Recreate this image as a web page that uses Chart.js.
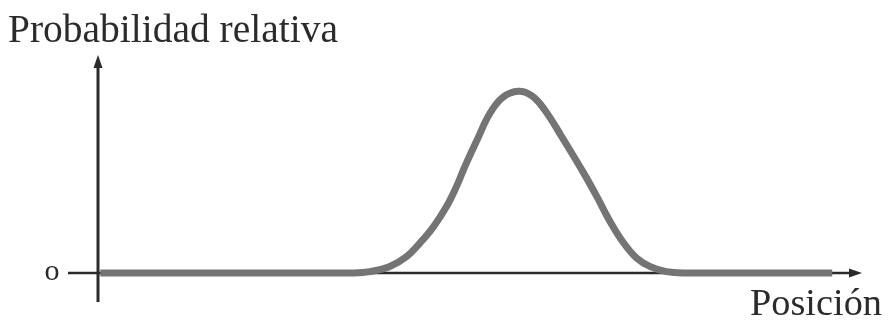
<!DOCTYPE html>
<html>
<head>
<meta charset="utf-8">
<script src="https://cdn.jsdelivr.net/npm/chart.js@4.4.0/dist/chart.umd.min.js"></script>
<style>
html,body{margin:0;padding:0;background:#fff;}
#wrap{width:888px;height:322px;position:relative;}
</style>
</head>
<body>
<div id="wrap"><canvas id="c"></canvas></div>
<script>
// Position (arbitrary units) and relative probability
const positions = [0.3, 20, 33.5, 35.6, 38.2, 40.4, 42.1, 43.9, 45.6, 46.9, 48.0, 49.6, 51.3, 53.0, 55.0, 56.8, 58.5, 60.7, 63.5, 65.3, 67.0, 68.8, 70.5, 72.3, 74.4, 77, 85, 96.1];
const probability = [0, 0, 0, 0.007, 0.035, 0.09, 0.163, 0.254, 0.364, 0.474, 0.584, 0.73, 0.879, 0.967, 1.0, 0.975, 0.896, 0.75, 0.555, 0.42, 0.285, 0.165, 0.082, 0.035, 0.007, 0, 0, 0];
const yTitle = "Probabilidad relativa";
const xTitle = "Posición";
const zeroLabel = "o";

const points = positions.map((x, i) => ({x: x, y: probability[i]}));

function fitFont(ctx, text, width, family) {
  let size = 40;
  ctx.font = size + "px " + family;
  const w = ctx.measureText(text).width;
  return size * width / w;
}

const axesPlugin = {
  id: 'axesArrows',
  beforeDatasetsDraw(chart) {
    const ctx = chart.ctx;
    const xs = chart.scales.x, ys = chart.scales.y;
    const x0 = xs.getPixelForValue(0);
    const y0 = ys.getPixelForValue(0);
    const xEnd = xs.getPixelForValue(xs.max);
    const yTop = ys.getPixelForValue(ys.max);
    const yBot = ys.getPixelForValue(ys.min);
    ctx.save();
    ctx.strokeStyle = '#2a2a2a';
    ctx.fillStyle = '#2a2a2a';
    ctx.lineWidth = 3;
    ctx.beginPath();
    ctx.moveTo(x0, yBot);
    ctx.lineTo(x0, yTop + 10);
    ctx.stroke();
    ctx.beginPath();
    ctx.moveTo(x0, yTop);
    ctx.lineTo(x0 - 4.5, yTop + 13);
    ctx.lineTo(x0 + 4.5, yTop + 13);
    ctx.closePath();
    ctx.fill();
    ctx.lineWidth = 2.5;
    ctx.beginPath();
    ctx.moveTo(x0 - 30, y0);
    ctx.lineTo(xEnd - 10, y0);
    ctx.stroke();
    ctx.beginPath();
    ctx.moveTo(xEnd, y0);
    ctx.lineTo(xEnd - 13, y0 - 4.5);
    ctx.lineTo(xEnd - 13, y0 + 4.5);
    ctx.closePath();
    ctx.fill();
    ctx.restore();
  },
  afterDraw(chart) {
    const ctx = chart.ctx;
    const xs = chart.scales.x, ys = chart.scales.y;
    const x0 = xs.getPixelForValue(0);
    const y0 = ys.getPixelForValue(0);
    const fam = '"Liberation Serif", "DejaVu Serif", serif';
    ctx.save();
    ctx.fillStyle = '#2b2b2b';
    ctx.textBaseline = 'alphabetic';
    ctx.textAlign = 'left';
    let s = fitFont(ctx, yTitle, 330, fam);
    ctx.font = s + 'px ' + fam;
    ctx.fillText(yTitle, 8, 42);
    s = fitFont(ctx, xTitle, 132, fam);
    ctx.font = s + 'px ' + fam;
    ctx.fillText(xTitle, 750, 315);
    ctx.font = '30px ' + fam;
    ctx.textAlign = 'center';
    ctx.textBaseline = 'middle';
    ctx.fillText(zeroLabel, x0 - 46, y0 - 1);
    ctx.restore();
  }
};

new Chart(document.getElementById('c'), {
  type: 'line',
  data: {
    datasets: [{
      data: points,
      borderColor: '#747474',
      borderWidth: 7,
      pointRadius: 0,
      fill: false,
      tension: 0.4,
      borderCapStyle: 'butt',
      borderJoinStyle: 'round'
    }]
  },
  options: {
    responsive: true,
    maintainAspectRatio: false,
    animation: false,
    layout: {padding: {left: 98, right: 26, top: 55, bottom: 20}},
    plugins: {legend: {display: false}, tooltip: {enabled: false}},
    scales: {
      x: {type: 'linear', min: 0, max: 100, display: false},
      y: {type: 'linear', min: -0.16, max: 1.2, display: false}
    }
  },
  plugins: [axesPlugin]
});
</script>
</body>
</html>
